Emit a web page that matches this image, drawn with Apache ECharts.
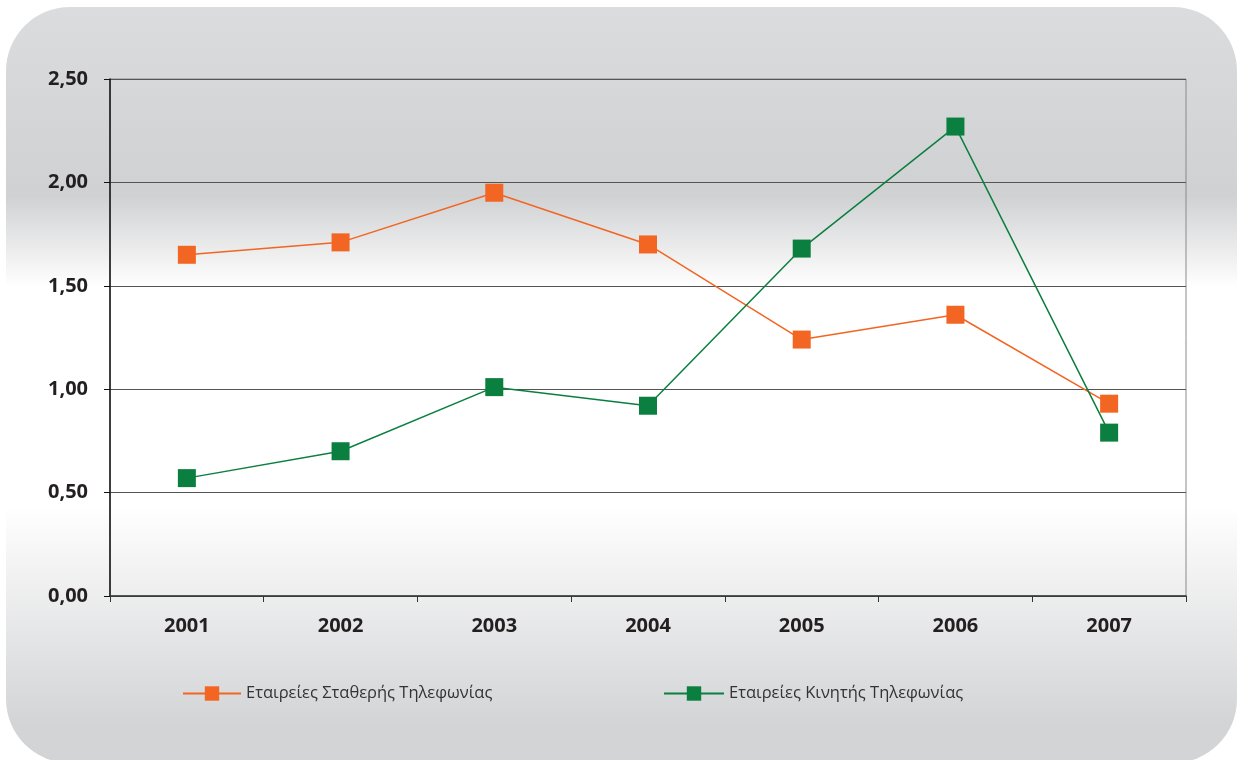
<!DOCTYPE html>
<html>
<head>
<meta charset="utf-8">
<script src="https://cdn.jsdelivr.net/npm/echarts@6/dist/echarts.min.js"></script>
<style>
  html, body { margin: 0; padding: 0; background: #fff; }
  #chart { width: 1243px; height: 760px; }
</style>
</head>
<body>
<div id="chart"></div>
<script>
// data
const years = ['2001', '2002', '2003', '2004', '2005', '2006', '2007']
const fixedName = 'Εταιρείες Σταθερής Τηλεφωνίας'
const mobileName = 'Εταιρείες Κινητής Τηλεφωνίας'
const fixedValues = [1.65, 1.71, 1.95, 1.70, 1.24, 1.36, 0.93]
const mobileValues = [0.57, 0.70, 1.01, 0.92, 1.68, 2.27, 0.79]

const fixedColor = '#f26522'
const mobileColor = '#0b7f3f'
const labelFont = '"Open Sans", "Noto Sans", sans-serif'

const myChart = echarts.init(document.getElementById('chart'))

const option = {
  animation: false,
  graphic: [
    {
      type: 'rect',
      z: -10,
      silent: true,
      shape: { x: 6, y: 7, width: 1231, height: 756, r: 64 },
      style: {
        fill: new echarts.graphic.LinearGradient(0, 0, 0, 1, [
          { offset: 0, color: '#dbdcde' },
          { offset: 0.25, color: '#d0d1d3' },
          { offset: 0.37, color: '#ffffff' },
          { offset: 0.66, color: '#ffffff' },
          { offset: 0.95, color: '#d3d4d6' },
          { offset: 1, color: '#d3d4d6' }
        ])
      }
    }
  ],
  grid: {
    left: 110,
    right: 57,
    top: 79,
    bottom: 164,
    show: true,
    backgroundColor: 'transparent',
    borderColor: '#8a8a8a',
    borderWidth: 1
  },
  legend: [
    {
      data: [fixedName],
      left: 177,
      top: 680,
      itemWidth: 58,
      itemHeight: 18,
      itemGap: 5,
      textStyle: { fontFamily: labelFont, fontSize: 16.5, color: '#333' }
    },
    {
      data: [mobileName],
      left: 658,
      top: 680,
      itemWidth: 60,
      itemHeight: 18,
      textStyle: { fontFamily: labelFont, fontSize: 16.5, color: '#333' }
    }
  ],
  xAxis: {
    type: 'category',
    data: years,
    boundaryGap: true,
    axisLine: { lineStyle: { color: '#333', width: 1.5 } },
    axisTick: { show: true, length: 6, lineStyle: { color: '#333' } },
    axisLabel: {
      margin: 20,
      fontFamily: labelFont,
      fontWeight: 'bold',
      fontSize: 20,
      color: '#231f20'
    }
  },
  yAxis: {
    type: 'value',
    min: 0,
    max: 2.5,
    interval: 0.5,
    axisLine: { show: true, lineStyle: { color: '#111', width: 1.5 } },
    axisTick: { show: true, length: 6, lineStyle: { color: '#111' } },
    splitLine: { show: true, lineStyle: { color: '#555', width: 1 } },
    axisLabel: {
      margin: 22,
      fontFamily: labelFont,
      fontWeight: 'bold',
      fontSize: 20,
      color: '#231f20',
      formatter: v => v.toFixed(2).replace('.', ',')
    }
  },
  series: [
    {
      name: fixedName,
      type: 'line',
      data: fixedValues,
      symbol: 'rect',
      symbolSize: 18,
      lineStyle: { color: fixedColor, width: 1.5 },
      itemStyle: { color: fixedColor }
    },
    {
      name: mobileName,
      type: 'line',
      data: mobileValues,
      symbol: 'rect',
      symbolSize: 18,
      lineStyle: { color: mobileColor, width: 1.5 },
      itemStyle: { color: mobileColor }
    }
  ]
}

myChart.setOption(option)
window.addEventListener('resize', () => {
  myChart.resize()
})
</script>
</body>
</html>
